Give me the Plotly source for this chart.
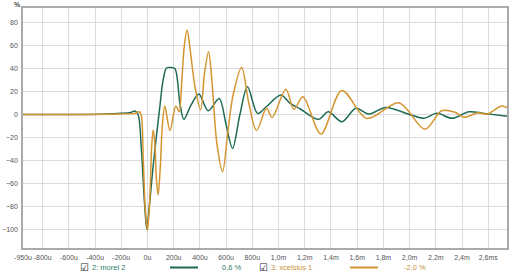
import plotly.graph_objects as go

# ---- data (time in microseconds, amplitude in %) ----
morel_t = [-950, -364, -211, -135, -97, -72, -47, -24, -5, 14, 43, 94, 119, 145, 178, 209,
           247, 277, 331, 392, 463, 547, 598, 649, 705, 763, 840, 908, 1018, 1086, 1163,
           1304, 1379, 1484, 1590, 1689, 1819, 2010, 2109, 2209, 2323, 2453, 2567, 2743]
morel_v = [0, 0.3, 1, 1.5, 3, 0, -30, -75, -100, -80, -45, 6.8, 30, 40.5, 41, 40,
           10, -4.2, 8, 17.9, 3.3, 14, -8, -29.5, 0, 24.2, 1, 7, 17, 10, 5,
           -4.2, 2.4, -6.3, 5.4, 0.4, 6.2, -0.4, -3.3, 1, -3.3, 2.4, 1, -1.5]

xcel_t = [-950, -211, -97, -64, -49, -32, -17, 0, 18, 31, 43, 56, 67, 81, 98, 113, 132,
          171, 216, 241, 262, 281, 302, 327, 361, 405, 434, 466, 491, 529, 573, 613,
          653, 718, 773, 832, 908, 951, 1056, 1117, 1186, 1323, 1483, 1674, 1918,
          2117, 2244, 2346, 2415, 2522, 2590, 2702, 2743]
xcel_v = [0, 0.5, 1, 2.4, 0, -40, -82, -100.6, -72, -30, -13.5, -25, -55, -70, -45, -10, 7.4,
          -14, 7.4, 2.4, 30, 60, 73.6, 55, 25, 3.9, 35, 54.7, 30, -25, -49.8, -15,
          17, 41, 10, -14, 5.4, -2.5, 22, 4.5, 15.5, -17, 21, -3.5, 10.3,
          -12.8, 3.3, 1.9, -2.4, 1.5, 0.2, 7.4, 6]

x_tickvals = [-950, -800, -600, -400, -200, 0, 200, 400, 600, 800, 1000, 1200, 1400,
              1600, 1800, 2000, 2200, 2400, 2600]
x_ticktext = ["-950u", "-800u", "-600u", "-400u", "-200u", "0u", "200u", "400u", "600u",
              "800u", "1,0m", "1,2m", "1,4m", "1,6m", "1,8m", "2,0m", "2,2m", "2,4m", "2,6ms"]
y_tickvals = [-100, -80, -60, -40, -20, 0, 20, 40, 60, 80]

series_names = ["2: morel 2", "3: xcelsius 1"]
series_values = ["0,6 %", "-2,0 %"]

TEAL = "#1f6b57"
ORANGE = "#d4952f"

fig = go.Figure()
fig.add_trace(go.Scatter(x=morel_t, y=morel_v, mode="lines",
                         line=dict(color=TEAL, width=1.5, shape="spline", smoothing=0.9),
                         name=series_names[0]))
fig.add_trace(go.Scatter(x=xcel_t, y=xcel_v, mode="lines",
                         line=dict(color=ORANGE, width=1.5, shape="spline", smoothing=0.9),
                         name=series_names[1]))

W, H = 517, 275
L, R, T, B = 23, 10, 8, 27

fig.update_layout(
    width=W, height=H,
    margin=dict(l=L, r=R, t=T, b=B, autoexpand=False),
    paper_bgcolor="white", plot_bgcolor="white",
    showlegend=False,
    font=dict(family="Liberation Sans, Arial, sans-serif", size=7, color="#555555"),
    xaxis=dict(range=[-950, 2743], tickvals=x_tickvals, ticktext=x_ticktext,
               tickangle=0, automargin=False,
               showgrid=True, gridcolor="#dcdcdc", gridwidth=1,
               showline=True, linecolor="#aaaaaa", linewidth=1.5, mirror=True,
               ticks="outside", ticklen=2, tickcolor="rgba(0,0,0,0)",
               zeroline=False, fixedrange=True),
    yaxis=dict(range=[-116.3, 92.8], tickvals=y_tickvals, automargin=False,
               showgrid=True, gridcolor="#dcdcdc", gridwidth=1,
               showline=True, linecolor="#aaaaaa", linewidth=1.5, mirror=True,
               ticks="outside", ticklen=2, tickcolor="rgba(0,0,0,0)",
               zeroline=False, fixedrange=True),
)

# paper coords are relative to the plot area
def px_x(p):
    return (p - L) / (W - L - R)

def px_y(p):
    return (H - B - p) / (H - T - B)

annos = []
annos.append(dict(x=px_x(17), y=px_y(4.5), xref="paper", yref="paper", text="<b>%</b>",
                  showarrow=False, font=dict(size=7, color="#444444"),
                  xanchor="center", yanchor="middle"))

legend_y = 267.5
items = [
    dict(box=84, name_x=90, line=(170, 198), val_x=232, color=TEAL, tcolor="#2f7d69"),
    dict(box=263.5, name_x=269, line=(350, 378), val_x=415, color=ORANGE, tcolor="#c8923a"),
]
shapes = []
for i, it in enumerate(items):
    annos.append(dict(x=px_x(it["box"]), y=px_y(legend_y), xref="paper", yref="paper",
                      text="☑", showarrow=False,
                      font=dict(family="DejaVu Sans", size=10, color="#222222"),
                      xanchor="center", yanchor="middle"))
    annos.append(dict(x=px_x(it["name_x"]), y=px_y(legend_y), xref="paper", yref="paper",
                      text=series_names[i], showarrow=False,
                      font=dict(size=7.5, color=it["tcolor"]),
                      xanchor="left", yanchor="middle"))
    annos.append(dict(x=px_x(it["val_x"]), y=px_y(legend_y), xref="paper", yref="paper",
                      text=series_values[i], showarrow=False,
                      font=dict(size=7.5, color=it["tcolor"]),
                      xanchor="center", yanchor="middle"))
    shapes.append(dict(type="line", xref="paper", yref="paper",
                       x0=px_x(it["line"][0]), x1=px_x(it["line"][1]),
                       y0=px_y(legend_y), y1=px_y(legend_y),
                       line=dict(color=it["color"], width=2)))

fig.update_layout(annotations=annos, shapes=shapes)
fig.write_html("out.html")
